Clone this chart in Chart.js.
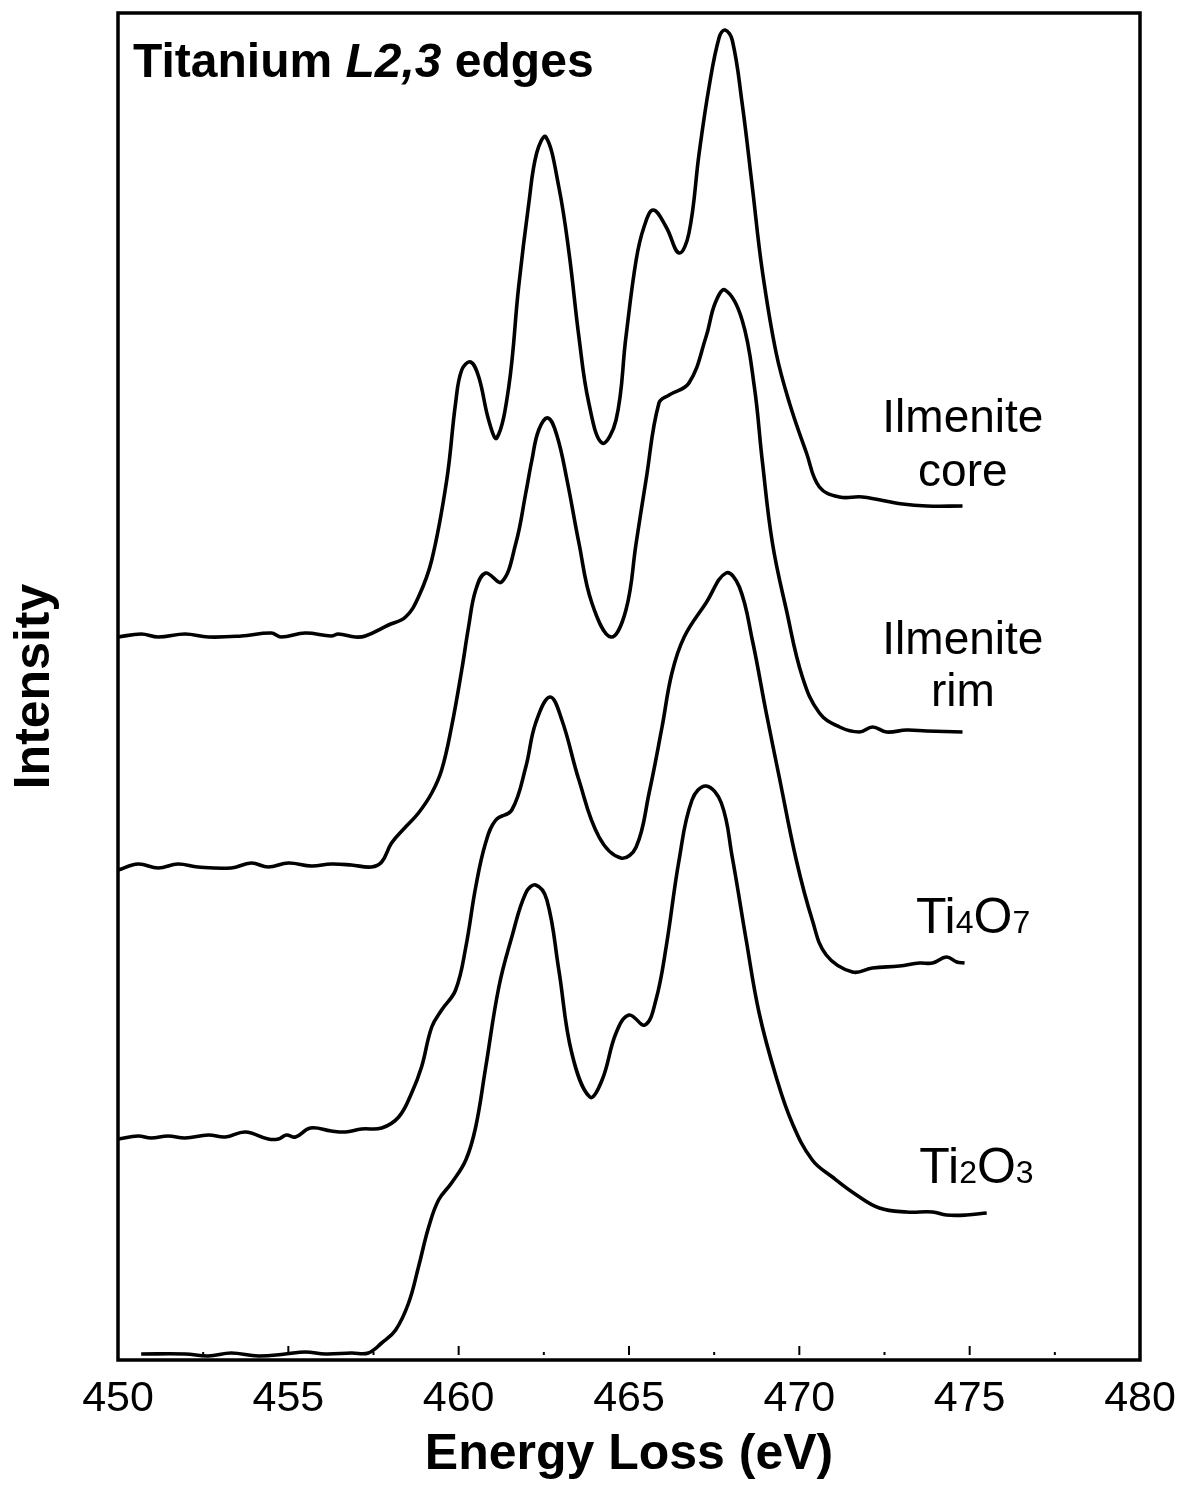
<!DOCTYPE html>
<html>
<head>
<meta charset="utf-8">
<title>Titanium L2,3 edges</title>
<script src="https://cdn.jsdelivr.net/npm/chart.js@4.4.1/dist/chart.umd.min.js"></script>
<style>
  html, body { margin: 0; padding: 0; background: #fff; }
  #chart { display: block; }
</style>
</head>
<body>
<canvas id="chart" width="1184" height="1485"></canvas>
<script>
// Ti L2,3 EELS spectra, stacked with vertical offsets (arbitrary intensity units)

const xTicks = [450, 455, 460, 465, 470, 475, 480];
const xMinorTicks = [452.5, 457.5, 462.5, 467.5, 472.5, 477.5];

// Ilmenite core
const coreEnergy = [450.00, 450.68, 451.18, 451.97, 452.65, 453.62, 454.50, 454.79, 455.50, 456.26,
    456.47, 456.97, 457.26, 457.94, 458.44, 458.82, 459.21, 459.65, 459.91, 460.09,
    460.35, 460.59, 460.88, 461.12, 461.47, 461.76, 462.06, 462.29, 462.56, 462.94,
    463.24, 463.53, 463.82, 464.21, 464.62, 464.91, 465.21, 465.44, 465.71, 466.09,
    466.47, 466.76, 467.06, 467.35, 467.65, 467.82, 468.03, 468.32, 468.62, 468.91,
    469.32, 469.71, 470.21, 470.59, 471.18, 471.85, 473.03, 473.74, 474.79];
const coreIntensity = [723, 726, 723, 726, 723, 724, 727, 723, 727, 724,
    726, 723, 724, 735, 743, 763, 800, 880, 957, 990,
    998, 983, 940, 922, 973, 1073, 1157, 1207, 1223, 1173,
    1107, 1023, 957, 917, 940, 1023, 1100, 1133, 1150, 1133,
    1107, 1127, 1207, 1273, 1323, 1330, 1320, 1257, 1173, 1090,
    1007, 957, 907, 873, 863, 863, 856, 854, 854];

// Ilmenite rim
const rimEnergy = [450.00, 450.59, 451.18, 451.76, 452.35, 453.32, 453.91, 454.41, 455.00, 455.68,
    456.26, 456.85, 457.44, 457.74, 458.03, 458.44, 458.82, 459.21, 459.50, 459.79,
    460.09, 460.29, 460.50, 460.79, 461.26, 461.68, 461.97, 462.15, 462.35, 462.62,
    462.88, 463.18, 463.53, 463.91, 464.47, 464.91, 465.21, 465.50, 465.88, 466.18,
    466.76, 467.26, 467.53, 467.82, 468.32, 468.68, 468.91, 469.21, 469.62, 470.09,
    470.59, 471.18, 471.76, 472.15, 472.56, 473.15, 473.74, 474.79];
const rimIntensity = [490, 496, 492, 496, 493, 492, 497, 493, 497, 494,
    496, 495, 493, 498, 517, 533, 547, 567, 590, 633,
    690, 733, 770, 787, 778, 817, 867, 900, 930, 942,
    925, 880, 817, 757, 723, 750, 817, 880, 957, 965,
    977, 1023, 1057, 1070, 1040, 973, 900, 817, 750, 683,
    647, 633, 628, 633, 628, 630, 629, 628];

// Ti4O7
const ti4o7Energy = [450.00, 450.59, 450.97, 451.47, 451.97, 452.65, 453.15, 453.74, 454.41, 454.71,
    454.94, 455.21, 455.65, 456.26, 456.68, 457.15, 457.74, 458.24, 458.62, 458.91,
    459.21, 459.50, 459.91, 460.21, 460.50, 460.79, 461.09, 461.56, 461.97, 462.26,
    462.68, 463.03, 463.53, 464.12, 464.76, 465.21, 465.59, 465.97, 466.26, 466.62,
    467.26, 467.85, 468.24, 468.62, 469.03, 469.41, 469.91, 470.38, 470.79, 471.56,
    472.15, 472.94, 473.53, 473.91, 474.32, 474.62, 474.85];
const ti4o7Intensity = [221, 224, 222, 224, 222, 225, 223, 228, 221, 221,
    225, 223, 232, 229, 228, 231, 232, 243, 267, 293,
    333, 350, 370, 413, 473, 517, 540, 550, 593, 637,
    663, 640, 580, 523, 502, 513, 567, 633, 687, 723,
    757, 787, 773, 720, 647, 583, 500, 440, 405, 388,
    392, 394, 397, 397, 403, 398, 397];

// Ti2O3
const ti2o3Energy = [450.68, 451.97, 452.65, 453.32, 454.12, 454.91, 455.50, 456.09, 456.85, 457.35,
    457.74, 458.15, 458.53, 458.82, 459.12, 459.41, 459.79, 460.21, 460.50, 460.79,
    461.18, 461.56, 461.97, 462.26, 462.59, 462.94, 463.32, 463.85, 464.21, 464.62,
    465.00, 465.47, 465.79, 466.09, 466.47, 466.85, 467.26, 467.71, 468.03, 468.44,
    468.82, 469.32, 469.79, 470.38, 470.97, 471.68, 472.35, 473.15, 473.91, 474.32,
    474.91, 475.50];
const ti2o3Intensity = [6, 6, 4, 7, 4, 6, 8, 6, 7, 7,
    17, 30, 57, 93, 133, 160, 177, 200, 233, 292,
    373, 423, 467, 475, 460, 390, 307, 263, 280, 327,
    345, 335, 360, 413, 500, 560, 574, 557, 503, 420,
    347, 283, 237, 200, 183, 165, 152, 148, 148, 145,
    145, 147];

const FONT = '"Liberation Sans", Arial, Helvetica, sans-serif';

// Text placed next to each spectrum (anchor in data units, text baseline)
const seriesLabels = [
    { x: 474.8, y: 928, parts: [['Ilmenite', 46]] },
    { x: 474.8, y: 874, parts: [['core', 46]] },
    { x: 474.8, y: 706, parts: [['Ilmenite', 46]] },
    { x: 474.8, y: 654, parts: [['rim', 46]] },
    { x: 475.1, y: 427, parts: [['Ti', 50], ['4', 32], ['O', 50], ['7', 32]] },
    { x: 475.2, y: 177, parts: [['Ti', 50], ['2', 32], ['O', 50], ['3', 32]] }
];

function toPoints(energy, intensity) {
    return energy.map((e, i) => ({ x: e, y: intensity[i] }));
}

function makeDataset(label, energy, intensity) {
    return {
        label: label,
        data: toPoints(energy, intensity),
        borderColor: '#000',
        borderWidth: 3.6,
        pointRadius: 0,
        fill: false,
        tension: 0.4
    };
}

// Box around the plot plus short inward ticks on the energy axis
const framePlugin = {
    id: 'frame',
    afterDraw(chart) {
        const { ctx, chartArea: a } = chart;
        const x = chart.scales.x;
        ctx.save();
        ctx.strokeStyle = '#000';
        ctx.lineWidth = 3.5;
        ctx.strokeRect(a.left, a.top, a.right - a.left, a.bottom - a.top);
        ctx.lineWidth = 2;
        xTicks.slice(1, -1).forEach(v => {
            const px = x.getPixelForValue(v);
            ctx.beginPath();
            ctx.moveTo(px, a.bottom - 5);
            ctx.lineTo(px, a.bottom - 14);
            ctx.stroke();
        });
        xMinorTicks.forEach(v => {
            const px = x.getPixelForValue(v);
            ctx.beginPath();
            ctx.moveTo(px, a.bottom - 5);
            ctx.lineTo(px, a.bottom - 8);
            ctx.stroke();
        });
        ctx.restore();
    }
};

// "Titanium L2,3 edges" heading inside the frame, L2,3 in italics
const headingPlugin = {
    id: 'heading',
    afterDraw(chart) {
        const { ctx, chartArea: a } = chart;
        const pieces = [
            ['Titanium ', 'bold'],
            ['L2,3', 'italic bold'],
            [' edges', 'bold']
        ];
        let px = a.left + 15;
        const py = a.top + 64;
        ctx.save();
        ctx.fillStyle = '#000';
        ctx.textBaseline = 'alphabetic';
        ctx.textAlign = 'left';
        pieces.forEach(([text, style]) => {
            ctx.font = `${style} 48px ${FONT}`;
            ctx.fillText(text, px, py);
            px += ctx.measureText(text).width;
        });
        ctx.restore();
    }
};

// Spectrum names, small digits for the oxide formulas
const seriesLabelPlugin = {
    id: 'seriesLabels',
    afterDraw(chart) {
        const { ctx, scales: { x, y } } = chart;
        ctx.save();
        ctx.fillStyle = '#000';
        ctx.textBaseline = 'alphabetic';
        ctx.textAlign = 'left';
        seriesLabels.forEach(lbl => {
            let total = 0;
            lbl.parts.forEach(([t, size]) => {
                ctx.font = `${size}px ${FONT}`;
                total += ctx.measureText(t).width;
            });
            let px = x.getPixelForValue(lbl.x) - total / 2;
            const py = y.getPixelForValue(lbl.y);
            lbl.parts.forEach(([t, size]) => {
                ctx.font = `${size}px ${FONT}`;
                ctx.fillText(t, px, py);
                px += ctx.measureText(t).width;
            });
        });
        ctx.restore();
    }
};

function createSpectraChart() {
    Chart.defaults.font.family = FONT;
    Chart.defaults.color = '#000';

    const ctx = document.getElementById('chart').getContext('2d');

    new Chart(ctx, {
        type: 'line',
        data: {
            datasets: [
                makeDataset('Ilmenite core', coreEnergy, coreIntensity),
                makeDataset('Ilmenite rim', rimEnergy, rimIntensity),
                makeDataset('Ti4O7', ti4o7Energy, ti4o7Intensity),
                makeDataset('Ti2O3', ti2o3Energy, ti2o3Intensity)
            ]
        },
        options: {
            responsive: false,
            animation: false,
            devicePixelRatio: 1,
            layout: {
                padding: { top: 13, right: 44, bottom: 0, left: 0 }
            },
            plugins: {
                legend: { display: false },
                tooltip: { enabled: false }
            },
            scales: {
                x: {
                    type: 'linear',
                    min: 450,
                    max: 480,
                    afterBuildTicks: scale => {
                        scale.ticks = xTicks.map(v => ({ value: v }));
                    },
                    afterFit: scale => {
                        scale.height = 125;
                        scale.paddingLeft = 0;
                        scale.paddingRight = 0;
                    },
                    ticks: {
                        font: { size: 43 },
                        color: '#000',
                        padding: 13,
                        maxRotation: 0,
                        autoSkip: false,
                        callback: v => String(v)
                    },
                    grid: { display: false, drawTicks: false },
                    border: { display: false },
                    title: {
                        display: true,
                        text: 'Energy Loss (eV)',
                        color: '#000',
                        font: { size: 50, weight: 'bold' },
                        padding: { top: 0, bottom: 0 }
                    }
                },
                y: {
                    type: 'linear',
                    min: 0,
                    max: 1347,
                    afterFit: scale => {
                        scale.width = 118;
                    },
                    ticks: { display: false },
                    grid: { display: false, drawTicks: false },
                    border: { display: false },
                    title: {
                        display: true,
                        text: 'Intensity',
                        color: '#000',
                        font: { size: 50, weight: 'bold' },
                        padding: { top: 5, bottom: 0 }
                    }
                }
            }
        },
        plugins: [framePlugin, headingPlugin, seriesLabelPlugin]
    });
}

document.addEventListener('DOMContentLoaded', createSpectraChart);
</script>
</body>
</html>
